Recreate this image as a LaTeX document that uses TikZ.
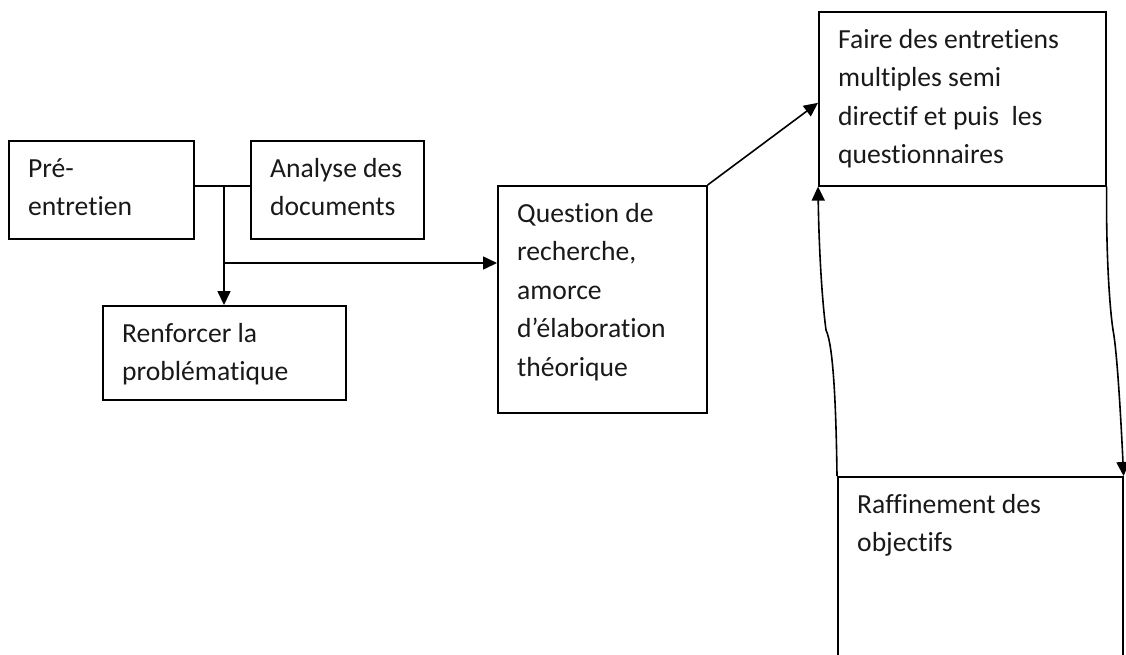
\documentclass[tikz,border=0pt]{standalone}
\usepackage{fontspec}
\setmainfont{Carlito}[Ligatures={NoCommon}]
\usetikzlibrary{arrows.meta,calc}
\begin{document}
\begin{tikzpicture}[x=1pt,y=-1pt,
  box/.style={draw, line width=1.6pt, inner sep=0pt, anchor=north west},
  txt/.style={anchor=north west, inner sep=0pt, align=left, font=\fontsize{27.6}{38.5}\selectfont, text=black!90},
  conn/.style={line width=1.6pt},
  arr/.style={conn, -{Triangle[length=14pt,width=13pt]}}]
\useasboundingbox (0,0) rectangle (1126,654);
\clip (0,0) rectangle (1126,654);
% boxes
\node[box, minimum width=185pt, minimum height=98pt] (pre) at (8,140) {};
\node[box, minimum width=173pt, minimum height=98pt] (ana) at (250,140) {};
\node[box, minimum width=243pt, minimum height=94pt] (ren) at (102,305) {};
\node[box, minimum width=209pt, minimum height=227pt] (q) at (497,185) {};
\node[box, minimum width=287pt, minimum height=174pt] (f) at (818,11) {};
\node[box, minimum width=285pt, minimum height=220pt] (r) at (837,476) {};
% texts
\node[txt] (pret) at ($(pre.north west)+(20,10)$) {\rule{0pt}{27pt}Pré-\\entretien};
\node[txt] (anat) at ($(ana.north west)+(20,10)$) {\rule{0pt}{27pt}Analyse des\\documents};
\node[txt] (rent) at ($(ren.north west)+(20,10)$) {\rule{0pt}{27pt}Renforcer la\\problématique};
\node[txt] (qt) at ($(q.north west)+(20,10)$) {\rule{0pt}{27pt}Question de\\recherche,\\amorce\\d’élaboration\\théorique};
\node[txt] (ft) at ($(f.north west)+(20,10)$) {\rule{0pt}{27pt}Faire des entretiens\\multiples semi\\directif et puis\ \ les\\questionnaires};
\node[txt] (rt) at ($(r.north west)+(20,10)$) {\rule{0pt}{27pt}Raffinement des\\objectifs};
% connectors
\coordinate (j1) at (224,186);
\coordinate (j2) at (224,263);
\coordinate (kL) at (826,330);
\coordinate (kR) at (1113,330);
\draw[conn] ($(pre.north east)+(0,46)$) -- ($(ana.north west)+(0,46)$);
\draw[arr] (j1) -- (j1 |- ren.north);
\draw[arr] (j2) -- (j2 -| q.west);
\draw[arr] (q.north east) -- ($(f.west)+(0,4)$);
\draw[arr] (f.south east) .. controls (1106,260) and (1110,310) .. (kR)
  .. controls (1117,350) and (1121,420) .. (r.north east);
\draw[arr] (r.north west) .. controls (836,400) and (833,345) .. (kL)
  .. controls (822,300) and (819,250) .. (f.south west);
\end{tikzpicture}
\end{document}
